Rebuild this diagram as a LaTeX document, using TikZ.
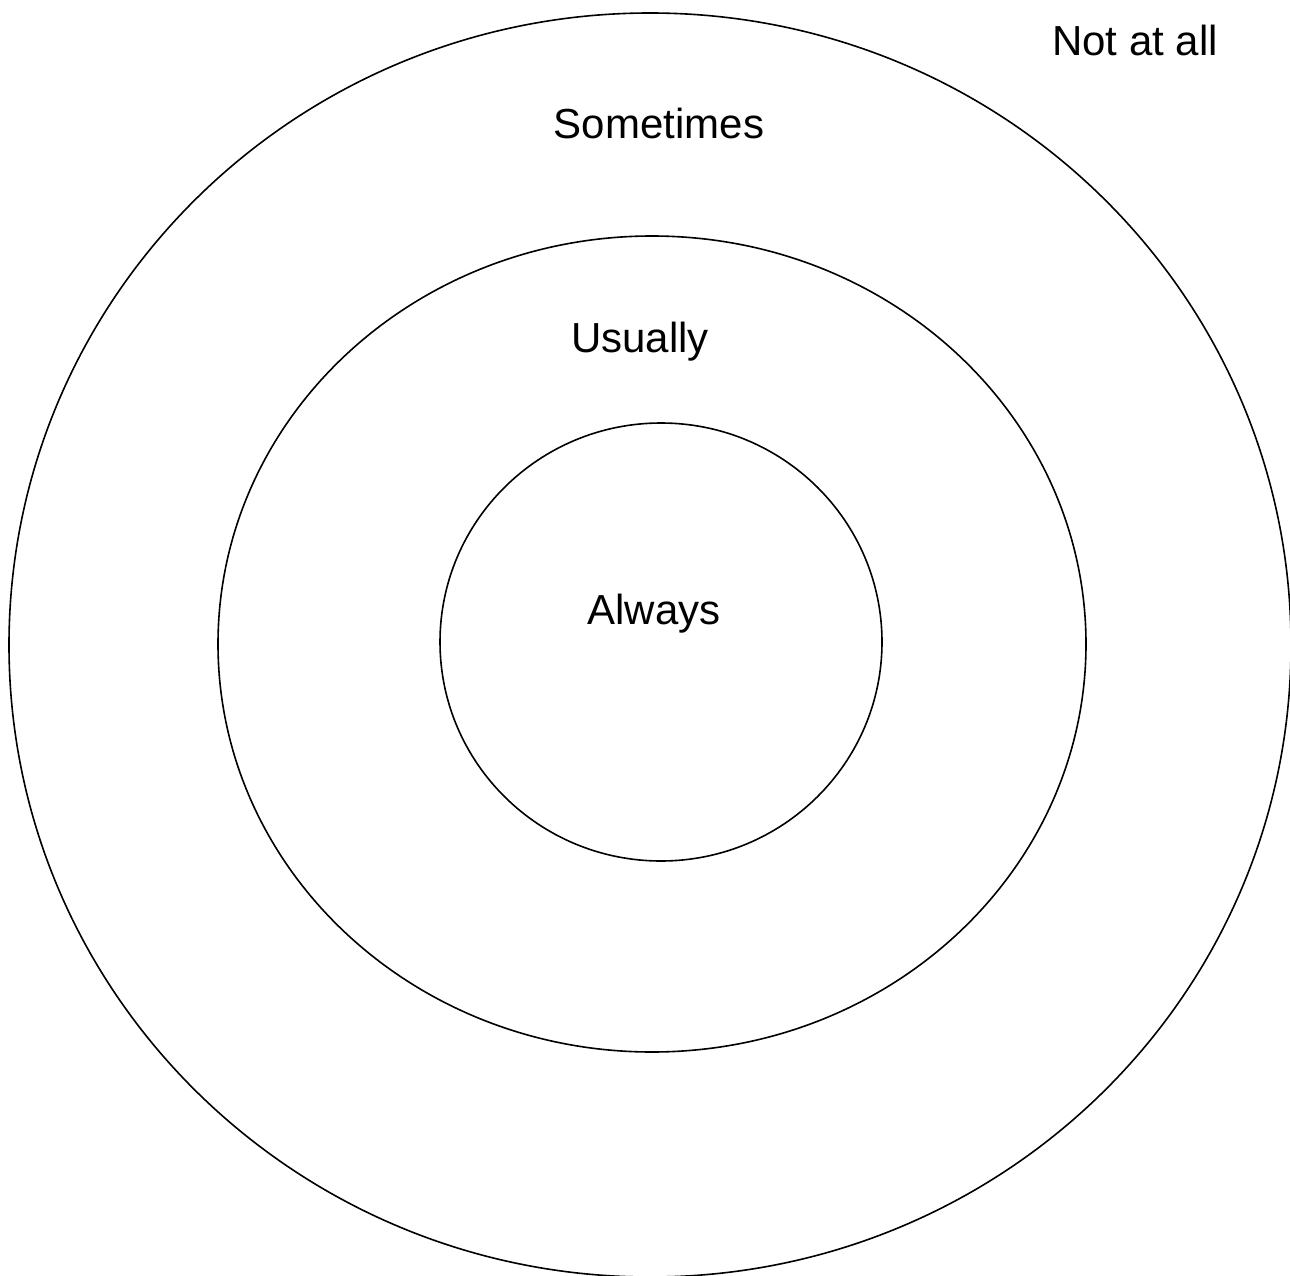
\documentclass[tikz,border=0pt]{standalone}
\usepackage{fontspec}
\setmainfont{Liberation Sans}
\begin{document}
\begin{tikzpicture}[x=1pt,y=-1pt,
  ring/.style={draw=black,line width=1.6pt},
  lbl/.style={font=\fontsize{42}{50}\selectfont,inner sep=0pt,anchor=center}]
\useasboundingbox (0,0) rectangle (1290,1276);
\draw[ring] (650,645) ellipse [x radius=641, y radius=632];
\draw[ring] (652,644) ellipse [x radius=434, y radius=408];
\draw[ring] (661,642) ellipse [x radius=221, y radius=219];
\node[lbl] (notatall) at (1135,40) {Not at all};
\node[lbl] (sometimes) at (659,123) {Sometimes};
\node[lbl] (usually) at (640,342) {Usually};
\node[lbl] (always) at (654,614) {Always};
\end{tikzpicture}
\end{document}
